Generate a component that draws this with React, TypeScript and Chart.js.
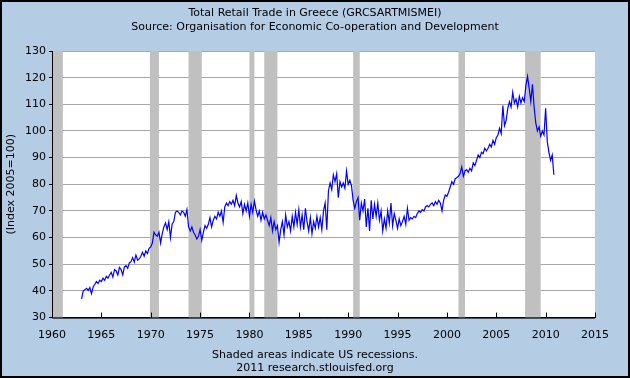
import React, { useEffect, useRef } from "react";
import { Chart, registerables } from "chart.js";

Chart.register(...registerables);

// Observations sampled every two months, starting Jan 1963
const START_YEAR = 1963.0;
const STEP_YEARS = 1 / 6;
const retailIndex: number[] = [
  // 1963
  37, 40, 40.5, 41, 40.2, 41.3,
  // 1964
  39, 41.5, 42.5, 43.5, 42.8, 44,
  // 1965
  43.5, 44.8, 44, 45.5, 44.8, 46,
  // 1966
  47, 45.2, 48, 47.5, 46, 48.8,
  // 1967
  48, 46, 49, 49.5, 48.5, 50.5,
  // 1968
  51, 52.5, 50.8, 53.5, 51.5, 52,
  // 1969
  53, 54.5, 53, 55, 54, 56,
  // 1970
  56.5, 58, 62, 61, 60.5, 62,
  // 1971
  58, 61.5, 64, 65.5, 63, 66,
  // 1972
  60, 65, 66, 69.5, 70, 69.5,
  // 1973
  68.5, 70, 69.5, 68, 70.5, 64,
  // 1974
  62.5, 64, 62, 61, 59.5, 60.5,
  // 1975
  63, 59, 62, 64.5, 63.5, 65,
  // 1976
  67.5, 64, 66.5, 68, 67, 69.5,
  // 1977
  68, 70, 65.7, 71.5, 73, 72,
  // 1978
  73.5, 72.5, 74, 72, 75.8, 73,
  // 1979
  71.5, 73.5, 69, 72.5, 70, 73,
  // 1980
  68, 72.5, 69.5, 73.7, 70.5, 68,
  // 1981
  70, 66.5, 69.5, 67, 68.5, 66.5,
  // 1982
  64.5, 67.5, 62.5, 66, 63, 64.5,
  // 1983
  58.2, 63, 66, 61, 68.5, 64,
  // 1984
  66, 62.5, 68, 64, 69.5, 65,
  // 1985
  70.5, 64, 68.5, 63, 71, 66,
  // 1986
  62.5, 67.5, 61.5, 66, 63.5, 68,
  // 1987
  64, 67.5, 63, 70, 73, 63,
  // 1988
  77.5, 80.5, 78, 83.5, 81, 84,
  // 1989
  75, 81, 79, 80.5, 78.5, 85,
  // 1990
  80, 81.5, 79.5, 74, 71, 73.5,
  // 1991
  75, 66.5, 73, 70, 74.5, 64,
  // 1992
  71, 62.5, 74, 67, 72.5, 68,
  // 1993
  73, 66.5, 70, 62.5, 67, 63.5,
  // 1994
  70, 65.5, 73, 64.5, 69, 66.5,
  // 1995
  63.5, 67, 64.5, 66, 68, 65,
  // 1996
  71, 66.5, 67.5, 67, 68, 67.5,
  // 1997
  69, 70, 69.5, 70.5, 70, 71.5,
  // 1998
  72, 71.5, 72.5, 73, 72, 73.5,
  // 1999
  72.5, 74, 73, 70, 74, 76,
  // 2000
  75.5, 77, 79, 81, 80, 82,
  // 2001
  82.5, 83, 84, 86.5, 83, 85,
  // 2002
  85.5, 84.5, 86, 85, 88, 87,
  // 2003
  89, 91, 90, 92, 91.5, 93.5,
  // 2004
  92.5, 93.5, 95, 94, 96.5, 95,
  // 2005
  97.5, 98.5, 101, 99, 109.5, 102,
  // 2006
  104, 108.5, 111, 109, 114.5, 110.5,
  // 2007
  112, 109, 113, 110.5, 112.5, 111,
  // 2008
  117, 120.5, 116, 111, 117.5, 109,
  // 2009
  103, 100, 101.5, 98, 100, 98.5,
  // 2010
  108.5, 96, 92, 89, 91, 83.6,
];

// US recessions (start, end) in decimal years
const recessionStarts: number[] = [1960.0, 1969.92, 1973.83, 1980.0, 1981.5, 1990.5, 2001.17, 2007.92];
const recessionEnds: number[] = [1961.1, 1970.83, 1975.17, 1980.5, 1982.83, 1991.17, 2001.83, 2009.5];

const titleLines: string[] = [
  "Total Retail Trade in Greece (GRCSARTMISMEI)",
  "Source: Organisation for Economic Co-operation and Development",
];
const footLines: string[] = [
  "Shaded areas indicate US recessions.",
  "2011 research.stlouisfed.org",
];
const yAxisTitle = "(Index 2005=100)";

const X_MIN = 1960;
const X_MAX = 2015;
const X_STEP = 5;
const Y_MIN = 30;
const Y_MAX = 130;
const Y_STEP = 10;

const FONT = "DejaVu Sans";
const BG = "#b4cce4";

const backgroundPlugin = {
  id: "bgFrame",
  beforeDraw(chart: any) {
    const { ctx, width, height, chartArea } = chart;
    ctx.save();
    ctx.fillStyle = BG;
    ctx.fillRect(0, 0, width, height);
    ctx.fillStyle = "#ffffff";
    ctx.fillRect(chartArea.left, chartArea.top, chartArea.right - chartArea.left, chartArea.bottom - chartArea.top);
    ctx.strokeStyle = "#000000";
    ctx.lineWidth = 2;
    ctx.strokeRect(1, 1, width - 2, height - 2);
    ctx.restore();
  },
};

const recessionPlugin = {
  id: "recessions",
  beforeDatasetsDraw(chart: any) {
    const { ctx, chartArea, scales } = chart;
    const xs = scales.x;
    ctx.save();
    ctx.fillStyle = "#c0c0c0";
    for (let i = 0; i < recessionStarts.length; i++) {
      const a = Math.max(chartArea.left, xs.getPixelForValue(recessionStarts[i]));
      const b = Math.min(chartArea.right, xs.getPixelForValue(recessionEnds[i]));
      ctx.fillRect(a, chartArea.top, b - a, chartArea.bottom - chartArea.top);
    }
    ctx.restore();
  },
  afterDatasetsDraw(chart: any) {
    const { ctx, chartArea, scales } = chart;
    const xs = scales.x;
    ctx.save();
    ctx.strokeStyle = "#000000";
    ctx.lineWidth = 1;
    ctx.beginPath();
    ctx.moveTo(chartArea.left + 0.5, chartArea.top);
    ctx.lineTo(chartArea.left + 0.5, chartArea.bottom + 0.5);
    ctx.lineTo(chartArea.right, chartArea.bottom + 0.5);
    for (const t of xs.ticks) {
      const px = Math.round(xs.getPixelForValue(t.value)) + 0.5;
      ctx.moveTo(px, chartArea.bottom);
      ctx.lineTo(px, chartArea.bottom - 5);
    }
    ctx.stroke();
    ctx.restore();
  },
};

export default function App() {
  const canvasRef = useRef<HTMLCanvasElement | null>(null);

  useEffect(() => {
    document.body.style.margin = "0";
    const canvas = canvasRef.current;
    if (!canvas) return;
    const points = retailIndex.map((v, i) => ({ x: START_YEAR + i * STEP_YEARS, y: v }));
    const font = { family: FONT, size: 11, weight: "normal" as const, lineHeight: 1.2 };
    const chart = new Chart(canvas, {
      type: "line",
      data: {
        datasets: [
          {
            data: points,
            borderColor: "#0000ff",
            borderWidth: 1.2,
            pointRadius: 0,
            tension: 0,
            fill: false,
          },
        ],
      },
      options: {
        animation: false,
        responsive: false,
        devicePixelRatio: 1,
        layout: { padding: { left: 0, right: 0, top: 0, bottom: 0 } },
        plugins: {
          legend: { display: false },
          tooltip: { enabled: false },
          title: {
            display: true,
            text: titleLines,
            color: "#000000",
            font,
            padding: { top: 7, bottom: 17.6 },
          },
          subtitle: {
            display: true,
            position: "bottom",
            text: footLines,
            color: "#000000",
            font,
            padding: { top: 5, bottom: 3 },
          },
        },
        scales: {
          x: {
            type: "linear",
            min: X_MIN,
            max: X_MAX,
            afterFit: (scale: any) => {
              scale.height = 26;
            },
            ticks: {
              stepSize: X_STEP,
              autoSkip: false,
              maxRotation: 0,
              color: "#000000",
              font,
              padding: 3,
              callback: (v: any) => String(v),
            },
            grid: { display: false },
            border: { display: true, color: "#000000", width: 1 },
          },
          y: {
            type: "linear",
            min: Y_MIN,
            max: Y_MAX,
            afterFit: (scale: any) => {
              scale.width = 52;
            },
            ticks: {
              stepSize: Y_STEP,
              color: "#000000",
              font,
              padding: 3,
              callback: (v: any) => String(v),
            },
            grid: { color: "#a8a8a8", lineWidth: 1, tickLength: 3, tickColor: "#000000" },
            border: { display: true, color: "#000000", width: 1 },
            title: {
              display: true,
              text: yAxisTitle,
              color: "#000000",
              font,
              padding: { top: 5, bottom: 0 },
            },
          },
          yRightSpacer: {
            type: "linear",
            position: "right",
            min: Y_MIN,
            max: Y_MAX,
            afterFit: (scale: any) => {
              scale.width = 35;
            },
            ticks: { display: false },
            grid: { display: false, drawOnChartArea: false },
            border: { display: false },
          },
        },
      },
      plugins: [backgroundPlugin, recessionPlugin],
    });
    return () => chart.destroy();
  }, []);

  return <canvas ref={canvasRef} width={630} height={378} style={{ display: "block" }} />;
}
